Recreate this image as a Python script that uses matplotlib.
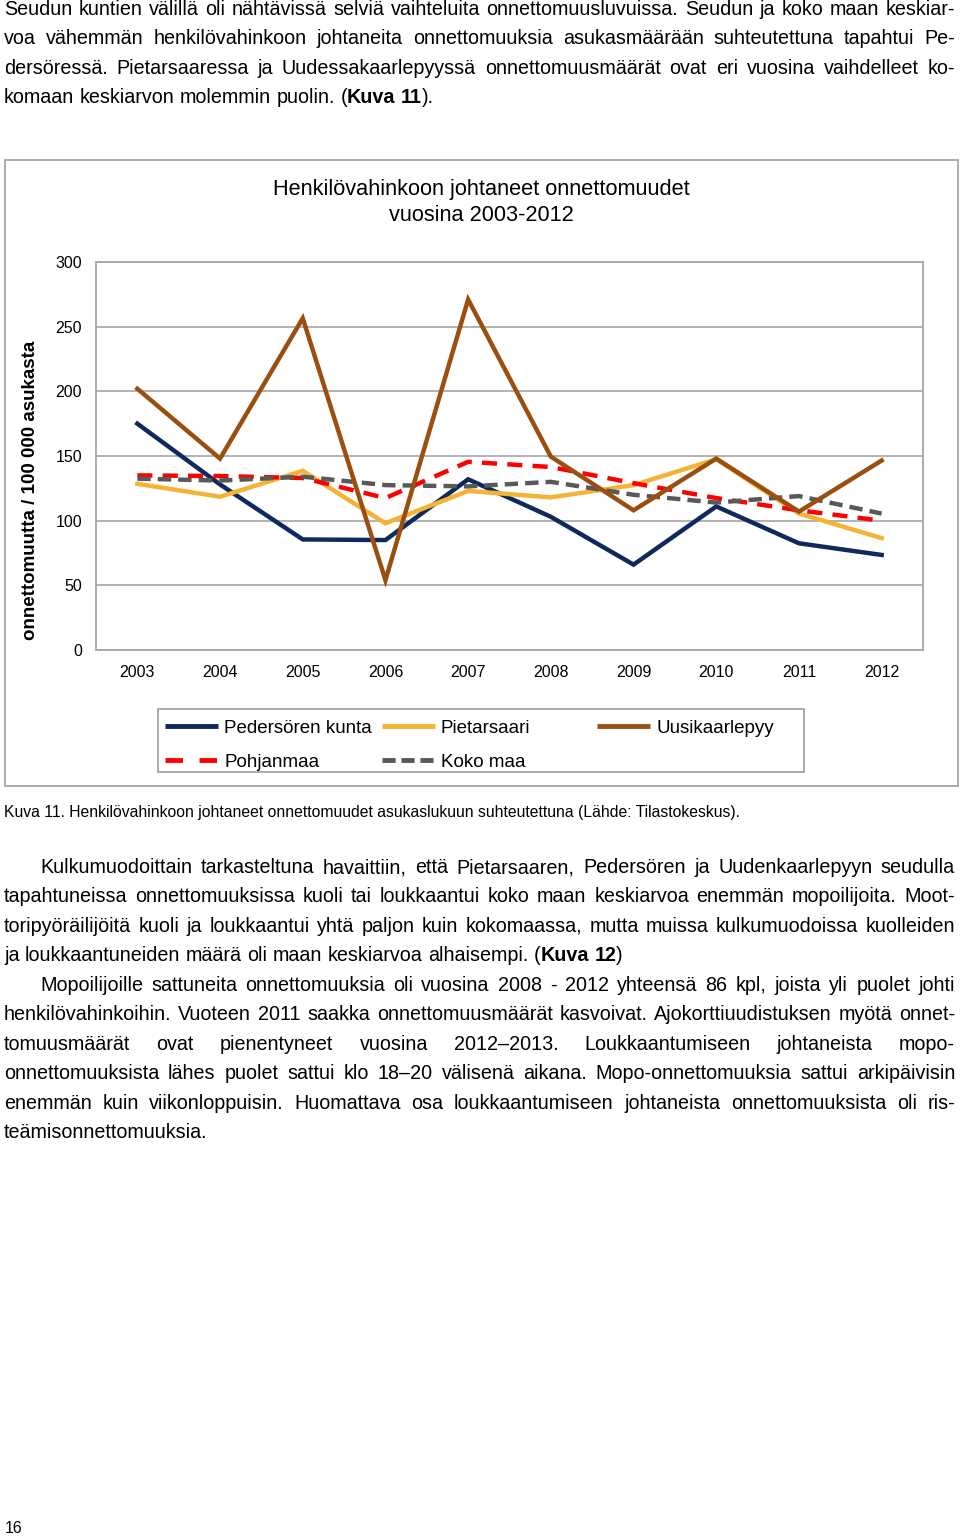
import matplotlib
matplotlib.use('Agg')
import matplotlib.pyplot as plt
import numpy as np
from matplotlib.patches import Rectangle

plt.rcParams['font.family'] = ['Liberation Sans', 'DejaVu Sans']

W, H = 960, 1537

# chart data (per 100 000 inhabitants)
years = ['2003', '2004', '2005', '2006', '2007', '2008', '2009', '2010', '2011', '2012']
pedersore = [175, 128, 85.5, 85, 132, 103, 66, 111, 82.5, 73.5]
pietarsaari = [128.5, 118.5, 138.5, 98, 123, 118, 127.5, 147.5, 105.5, 86.5]
uusikaarlepyy = [202, 148, 256.5, 54, 271, 149.5, 108, 148, 107, 146.5]
pohjanmaa = [135, 134.5, 133, 117.5, 145.5, 141.5, 129, 117.5, 108, 100]
koko_maa = [132.5, 131, 134, 127.5, 126.5, 130, 120, 114, 119, 105.5]

series_names = ['Pedersören kunta', 'Pietarsaari', 'Uusikaarlepyy', 'Pohjanmaa', 'Koko maa']

chart_title = ['Henkilövahinkoon johtaneet onnettomuudet', 'vuosina 2003-2012']
y_label = 'onnettomuutta / 100 000 asukasta'
caption = 'Kuva 11. Henkilövahinkoon johtaneet onnettomuudet asukaslukuun suhteutettuna (Lähde: Tilastokeskus).'

para1 = [
    'Seudun kuntien välillä oli nähtävissä selviä vaihteluita onnettomuusluvuissa. Seudun ja koko maan keskiar-',
    'voa vähemmän henkilövahinkoon johtaneita onnettomuuksia asukasmäärään suhteutettuna tapahtui Pe-',
    'dersöressä. Pietarsaaressa ja Uudessakaarlepyyssä onnettomuusmäärät ovat eri vuosina vaihdelleet ko-',
    'komaan keskiarvon molemmin puolin. (**Kuva 11**).',
]
para2 = [
    'Kulkumuodoittain tarkasteltuna havaittiin, että Pietarsaaren, Pedersören ja Uudenkaarlepyyn seudulla',
    'tapahtuneissa onnettomuuksissa kuoli tai loukkaantui koko maan keskiarvoa enemmän mopoilijoita. Moot-',
    'toripyöräilijöitä kuoli ja loukkaantui yhtä paljon kuin kokomaassa, mutta muissa kulkumuodoissa kuolleiden',
    'ja loukkaantuneiden määrä oli maan keskiarvoa alhaisempi. (**Kuva 12**)',
]
para3 = [
    'Mopoilijoille sattuneita onnettomuuksia oli vuosina 2008 - 2012 yhteensä 86 kpl, joista yli puolet johti',
    'henkilövahinkoihin. Vuoteen 2011 saakka onnettomuusmäärät kasvoivat. Ajokorttiuudistuksen myötä onnet-',
    'tomuusmäärät ovat pienentyneet vuosina 2012–2013. Loukkaantumiseen johtaneista mopo-',
    'onnettomuuksista lähes puolet sattui klo 18–20 välisenä aikana. Mopo-onnettomuuksia sattui arkipäivisin',
    'enemmän kuin viikonloppuisin. Huomattava osa loukkaantumiseen johtaneista onnettomuuksista oli ris-',
    'teämisonnettomuuksia.',
]
page_number = '16'

LW = 3.2
styles = [
    dict(color='#10295c', lw=LW, ls='-', zorder=3),
    dict(color='#f5b335', lw=LW, ls='-', zorder=3),
    dict(color='#9a4f10', lw=LW, ls='-', zorder=6),
    dict(color='#ff0000', lw=LW, ls=(0, (3.4, 2.3)), zorder=4),
    dict(color='#595959', lw=LW, ls=(0, (3.0, 1.6)), zorder=5),
]
legend_dashes = [None, None, None, (0, (3.6, 3.4)), (0, (2.7, 1.2))]

fig = plt.figure(figsize=(W / 100, H / 100), dpi=100)
page = fig.add_axes([0, 0, 1, 1])
page.set_xlim(0, W)
page.set_ylim(H, 0)
page.axis('off')
renderer = fig.canvas.get_renderer()

BODY = 14.2


def text_w(s, size, bold=False):
    t = page.text(0, 0, s, fontsize=size, fontweight='bold' if bold else 'normal')
    w = t.get_window_extent(renderer).width
    t.remove()
    return w


def parse(line):
    words = []
    bold = False
    for word in line.split(' '):
        runs = []
        for i, p in enumerate(word.split('**')):
            if i > 0:
                bold = not bold
            if p:
                runs.append((p, bold))
        words.append(runs)
    return words


def draw_line(line, y, x0, x1, size, justify):
    words = parse(line)
    widths = [sum(text_w(s, size, b) for s, b in runs) for runs in words]
    space = text_w('a a', size) - text_w('aa', size)
    if justify and len(words) > 1:
        gap = (x1 - x0 - sum(widths)) / (len(words) - 1)
    else:
        gap = space
    x = x0
    for runs, w in zip(words, widths):
        xx = x
        for s, b in runs:
            page.text(xx, y, s, fontsize=size, fontweight='bold' if b else 'normal',
                      ha='left', va='baseline', color='black')
            xx += text_w(s, size, b)
        x += w + gap


def draw_paragraph(lines, y0, indent, step=29.45):
    for i, line in enumerate(lines):
        x0 = 40 if (i == 0 and indent) else 4
        draw_line(line, y0 + i * step, x0, 955, BODY, i < len(lines) - 1)


draw_paragraph(para1, 15, False)
draw_paragraph(para2, 873, True)
draw_paragraph(para3, 873 + 4 * 29.45, True)

# chart frame
page.add_patch(Rectangle((4.5, 159.5), 953, 626, fill=False, ec='#a6a6a6', lw=1.3))
page.text(481, 195, chart_title[0], ha='center', va='baseline', fontsize=15.7)
page.text(481, 221, chart_title[1], ha='center', va='baseline', fontsize=15.7)
page.text(31, 490, y_label, rotation=90, ha='center', va='center',
          fontsize=13.5, fontweight='bold')

ax = fig.add_axes([96 / W, 1 - 650 / H, 827 / W, 388 / H])
x = np.arange(len(years)) + 0.5
for vals, st in zip([pedersore, pietarsaari, uusikaarlepyy, pohjanmaa, koko_maa], styles):
    ax.plot(x, vals, color=st['color'], lw=st['lw'], ls=st['ls'], zorder=st['zorder'],
            solid_joinstyle='miter', dash_capstyle='butt')
ax.set_xlim(0, len(years))
ax.set_ylim(0, 300)
ax.set_xticks(x)
ax.set_xticklabels(years)
ax.set_yticks(range(0, 301, 50))
ax.yaxis.grid(True, color='#a6a6a6', lw=1.2)
ax.set_axisbelow(True)
for sp in ax.spines.values():
    sp.set_color('#a6a6a6')
    sp.set_linewidth(1.3)
ax.tick_params(length=0, labelsize=11.5)
ax.tick_params(axis='x', pad=11)
ax.tick_params(axis='y', pad=10)

# legend
page.add_patch(Rectangle((157.5, 708.5), 646.5, 63.5, fill=False, ec='#a6a6a6', lw=1.3))
leg_pos = [(165, 726), (382, 726), (597, 726), (165, 760), (382, 760)]
for name, st, dsh, (lx, ly) in zip(series_names, styles, legend_dashes, leg_pos):
    page.plot([lx, lx + 53], [ly, ly], color=st['color'], lw=st['lw'] + 0.3,
              ls=dsh if dsh else '-', dash_capstyle='butt', solid_capstyle='butt')
    page.text(lx + 59, ly + 7, name, fontsize=13.5, ha='left', va='baseline')

page.text(4, 817, caption, fontsize=11.3, ha='left', va='baseline')
page.text(5, 1533, page_number, fontsize=11.5, ha='left', va='baseline')

fig.savefig('out.png', dpi=100)
